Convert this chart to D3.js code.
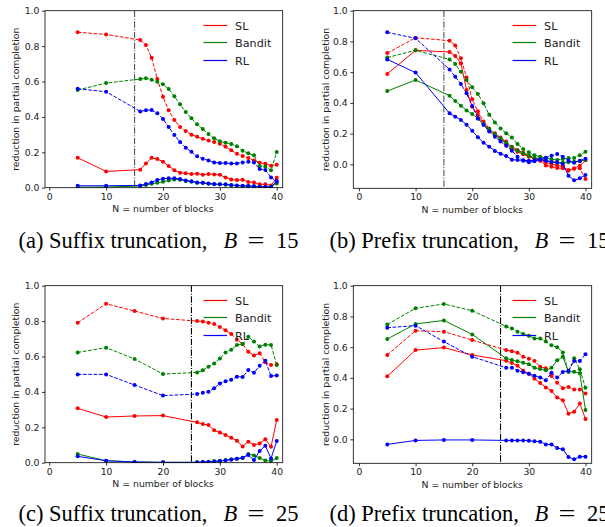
<!DOCTYPE html>
<html>
<head>
<meta charset="utf-8">
<script src="https://cdn.jsdelivr.net/npm/d3@7"></script>
<style>
  body { margin: 0; background: #fff; }
  svg { display: block; }
  .tick text { font-family: "DejaVu Sans", sans-serif; font-size: 9.3px; fill: #222; }
  .axis-label { font-family: "DejaVu Sans", sans-serif; font-size: 9.3px; fill: #222; }
  .legend-text { font-family: "DejaVu Sans", sans-serif; font-size: 11.2px; fill: #222; }
  .caption { font-family: "Liberation Serif", "Times New Roman", serif; font-size: 22.5px; fill: #000; }
</style>
</head>
<body>
<div id="chart"></div>
<script>
// x positions (number of blocks)
const xsB15 = [5, 10, 16, 17, 18, 19, 20, 21, 22, 23, 24, 25, 26, 27, 28, 29, 30, 31, 32, 33, 34, 35, 36, 37, 38, 39, 40];
const xsB25 = [5, 10, 15, 20, 26, 27, 28, 29, 30, 31, 32, 33, 34, 35, 36, 37, 38, 39, 40];
const seriesNames = ['SL', 'Bandit', 'RL'];
const xTicks = [0, 10, 20, 30, 40];

// (a) suffix truncation, B = 15
const aSLdash = [0.878, 0.866, 0.834, 0.806, 0.734, 0.614, 0.514, 0.437, 0.382, 0.343, 0.320, 0.299, 0.288, 0.277, 0.267, 0.258, 0.249, 0.232, 0.211, 0.192, 0.179, 0.168, 0.154, 0.141, 0.136, 0.124, 0.130];
const aSLsolid = [0.169, 0.092, 0.102, 0.137, 0.169, 0.162, 0.147, 0.122, 0.098, 0.085, 0.081, 0.077, 0.079, 0.073, 0.077, 0.075, 0.073, 0.058, 0.047, 0.043, 0.045, 0.032, 0.030, 0.019, 0.019, 0.013, 0.056];
const aBanditDash = [0.552, 0.591, 0.614, 0.618, 0.610, 0.599, 0.584, 0.557, 0.516, 0.471, 0.427, 0.392, 0.358, 0.331, 0.303, 0.279, 0.262, 0.254, 0.247, 0.234, 0.209, 0.194, 0.183, 0.122, 0.120, 0.098, 0.201];
const aBanditSolid = [0.003, 0.004, 0.009, 0.015, 0.022, 0.028, 0.034, 0.041, 0.047, 0.045, 0.038, 0.034, 0.028, 0.026, 0.022, 0.019, 0.019, 0.017, 0.013, 0.011, 0.009, 0.009, 0.008, 0.006, 0.006, 0.006, 0.024];
const aRLdash = [0.559, 0.542, 0.431, 0.437, 0.439, 0.420, 0.388, 0.343, 0.298, 0.258, 0.226, 0.203, 0.177, 0.164, 0.154, 0.143, 0.139, 0.139, 0.137, 0.137, 0.143, 0.147, 0.143, 0.105, 0.100, 0.058, 0.034];
const aRLsolid = [0.011, 0.011, 0.013, 0.021, 0.030, 0.043, 0.051, 0.053, 0.053, 0.049, 0.041, 0.036, 0.030, 0.028, 0.024, 0.021, 0.019, 0.019, 0.015, 0.013, 0.011, 0.009, 0.008, 0.006, 0.004, 0.004, 0.038];

// (b) prefix truncation, B = 15
const bSLdash = [0.724, 0.824, 0.805, 0.774, 0.690, 0.566, 0.423, 0.345, 0.278, 0.234, 0.202, 0.174, 0.148, 0.115, 0.093, 0.076, 0.059, 0.039, 0.024, -0.007, -0.015, -0.024, -0.026, -0.037, -0.028, -0.026, -0.095];
const bSLsolid = [0.588, 0.742, 0.731, 0.705, 0.657, 0.484, 0.375, 0.321, 0.267, 0.219, 0.191, 0.165, 0.130, 0.100, 0.082, 0.065, 0.050, 0.037, 0.026, 0.013, 0.002, -0.007, -0.013, -0.041, -0.026, -0.009, 0.026];
const bBanditDash = [0.695, 0.742, 0.683, 0.653, 0.603, 0.549, 0.501, 0.458, 0.397, 0.323, 0.273, 0.234, 0.202, 0.174, 0.132, 0.100, 0.078, 0.059, 0.050, 0.041, 0.033, 0.028, 0.035, 0.041, 0.041, 0.059, 0.082];
const bBanditSolid = [0.477, 0.549, 0.447, 0.412, 0.382, 0.351, 0.328, 0.299, 0.262, 0.230, 0.197, 0.169, 0.141, 0.113, 0.089, 0.072, 0.056, 0.043, 0.035, 0.026, 0.017, 0.011, 0.011, 0.013, 0.017, 0.020, 0.030];
const bRLdash = [0.859, 0.820, 0.618, 0.570, 0.523, 0.462, 0.380, 0.299, 0.256, 0.213, 0.180, 0.148, 0.121, 0.089, 0.050, 0.024, 0.013, 0.020, 0.033, 0.043, 0.056, 0.067, 0.050, 0.024, 0.011, 0.024, 0.037];
const bRLsolid = [0.683, 0.597, 0.332, 0.310, 0.289, 0.258, 0.219, 0.176, 0.141, 0.115, 0.087, 0.069, 0.054, 0.030, 0.028, 0.026, 0.024, 0.026, 0.030, 0.024, 0.015, 0.013, 0.002, -0.074, -0.104, -0.091, -0.069];

// (c) suffix truncation, B = 25
const cSLdash = [0.791, 0.898, 0.857, 0.815, 0.800, 0.798, 0.791, 0.783, 0.766, 0.748, 0.727, 0.695, 0.670, 0.627, 0.606, 0.618, 0.567, 0.552, 0.556];
const cSLsolid = [0.307, 0.258, 0.264, 0.266, 0.228, 0.218, 0.213, 0.183, 0.171, 0.156, 0.141, 0.124, 0.092, 0.119, 0.100, 0.109, 0.132, 0.090, 0.241];
const cBanditDash = [0.623, 0.650, 0.586, 0.501, 0.510, 0.522, 0.542, 0.561, 0.589, 0.623, 0.638, 0.665, 0.670, 0.712, 0.685, 0.657, 0.667, 0.665, 0.552];
const cBanditSolid = [0.049, 0.011, 0.004, 0.002, 0.002, 0.004, 0.006, 0.009, 0.011, 0.015, 0.019, 0.023, 0.026, 0.049, 0.041, 0.026, 0.013, 0.009, 0.026];
const cRLdash = [0.499, 0.499, 0.439, 0.379, 0.388, 0.395, 0.401, 0.420, 0.448, 0.460, 0.469, 0.486, 0.484, 0.524, 0.508, 0.548, 0.576, 0.490, 0.492];
const cRLsolid = [0.036, 0.011, 0.004, 0.002, 0.002, 0.004, 0.004, 0.006, 0.009, 0.013, 0.017, 0.023, 0.028, 0.043, 0.015, 0.066, 0.096, 0.024, 0.122];

// (d) prefix truncation, B = 25
const dSLdash = [0.549, 0.707, 0.701, 0.646, 0.581, 0.573, 0.564, 0.538, 0.525, 0.510, 0.473, 0.462, 0.412, 0.369, 0.332, 0.341, 0.325, 0.325, 0.299];
const dSLsolid = [0.410, 0.581, 0.597, 0.549, 0.512, 0.497, 0.479, 0.447, 0.427, 0.395, 0.367, 0.338, 0.315, 0.273, 0.254, 0.167, 0.180, 0.234, 0.132];
const dBanditDash = [0.748, 0.853, 0.881, 0.837, 0.735, 0.722, 0.701, 0.685, 0.675, 0.657, 0.657, 0.636, 0.612, 0.599, 0.566, 0.440, 0.527, 0.456, 0.336];
const dBanditSolid = [0.653, 0.751, 0.774, 0.683, 0.527, 0.516, 0.508, 0.499, 0.488, 0.466, 0.458, 0.449, 0.466, 0.514, 0.538, 0.440, 0.440, 0.430, 0.191];
const dRLdash = [0.727, 0.740, 0.636, 0.538, 0.466, 0.466, 0.447, 0.436, 0.427, 0.414, 0.403, 0.384, 0.434, 0.403, 0.438, 0.447, 0.510, 0.510, 0.553];
const dRLsolid = [-0.033, -0.007, -0.004, -0.004, -0.007, -0.007, -0.007, -0.007, -0.009, -0.013, -0.015, -0.033, -0.033, -0.056, -0.065, -0.115, -0.130, -0.113, -0.113];

const colors = { SL: '#ff0000', Bandit: '#008000', RL: '#0000ff' };

const panels = [
  { left: 45, right: 282.7, top: 10.7, bottom: 187.7, xDom: [-0.75, 41.05], yDom: [0, 1], cut: 15, cutColor: '#555',
    xs: xsB15, series: [['SL', aSLsolid, aSLdash], ['Bandit', aBanditSolid, aBanditDash], ['RL', aRLsolid, aRLdash]],
    ylabX: 16, caption: ['(a) Suffix truncation,', '15'], capX: 18.5, capY: 248 },
  { left: 353.3, right: 591.7, top: 10.7, bottom: 188.3, xDom: [-1.0, 41.1], yDom: [-0.156, 1], cut: 15, cutColor: '#555',
    xs: xsB15, series: [['SL', bSLsolid, bSLdash], ['Bandit', bBanditSolid, bBanditDash], ['RL', bRLsolid, bRLdash]],
    ylabX: 326, caption: ['(b) Prefix truncation,', '15'], capX: 329.5, capY: 248 },
  { left: 45, right: 282.7, top: 285.7, bottom: 462.7, xDom: [-0.75, 41.05], yDom: [0, 1], cut: 25, cutColor: '#000',
    xs: xsB25, series: [['SL', cSLsolid, cSLdash], ['Bandit', cBanditSolid, cBanditDash], ['RL', cRLsolid, cRLdash]],
    ylabX: 16, caption: ['(c) Suffix truncation,', '25'], capX: 18.5, capY: 521 },
  { left: 353.3, right: 591.7, top: 285.7, bottom: 463.3, xDom: [-1.0, 41.1], yDom: [-0.156, 1], cut: 25, cutColor: '#000',
    xs: xsB25, series: [['SL', dSLsolid, dSLdash], ['Bandit', dBanditSolid, dBanditDash], ['RL', dRLsolid, dRLdash]],
    ylabX: 326, caption: ['(d) Prefix truncation,', '25'], capX: 329.5, capY: 521 }
];

const svg = d3.select('#chart').append('svg')
  .attr('width', 605)
  .attr('height', 527);

panels.forEach(function(p, pi) {
  const x = d3.scaleLinear().domain(p.xDom).range([p.left, p.right]);
  const y = d3.scaleLinear().domain(p.yDom).range([p.bottom, p.top]);
  const g = svg.append('g');

  const clipId = 'clip-panel-' + pi;
  g.append('clipPath').attr('id', clipId)
    .append('rect')
    .attr('x', p.left).attr('y', p.top)
    .attr('width', p.right - p.left).attr('height', p.bottom - p.top);

  const plot = g.append('g').attr('clip-path', 'url(#' + clipId + ')');

  // vertical cut-off line at B
  plot.append('line')
    .attr('x1', x(p.cut)).attr('x2', x(p.cut))
    .attr('y1', p.top).attr('y2', p.bottom)
    .attr('stroke', p.cutColor)
    .attr('stroke-width', 1.1)
    .attr('stroke-dasharray', '6.4,1.6,1,1.6');

  const line = d3.line()
    .x((d, i) => x(p.xs[i]))
    .y(d => y(d));

  p.series.forEach(function(s) {
    const name = s[0];
    [[s[1], null], [s[2], '3.7,1.6']].forEach(function(pair) {
      const vals = pair[0];
      plot.append('path')
        .datum(vals)
        .attr('d', line)
        .attr('fill', 'none')
        .attr('stroke', colors[name])
        .attr('stroke-width', 1)
        .attr('stroke-dasharray', pair[1]);
      plot.selectAll(null)
        .data(vals)
        .enter()
        .append('circle')
        .attr('cx', (d, i) => x(p.xs[i]))
        .attr('cy', d => y(d))
        .attr('r', 2)
        .attr('fill', colors[name]);
    });
  });

  // axes
  const xAxis = d3.axisBottom(x).tickValues(xTicks).tickSize(3).tickPadding(2.5).tickFormat(d3.format('d'));
  g.append('g')
    .attr('transform', `translate(0,${p.bottom})`)
    .call(xAxis)
    .call(a => a.select('.domain').remove());

  const yTicks = [0, 0.2, 0.4, 0.6, 0.8, 1.0];
  const yAxis = d3.axisLeft(y).tickValues(yTicks).tickSize(3).tickPadding(2.5).tickFormat(d3.format('.1f'));
  g.append('g')
    .attr('transform', `translate(${p.left},0)`)
    .call(yAxis)
    .call(a => a.select('.domain').remove());

  g.selectAll('.tick line').attr('stroke', '#000').attr('stroke-width', 0.8);

  // frame
  g.append('rect')
    .attr('x', p.left).attr('y', p.top)
    .attr('width', p.right - p.left).attr('height', p.bottom - p.top)
    .attr('fill', 'none')
    .attr('stroke', '#000')
    .attr('stroke-width', 0.8);

  // axis labels
  g.append('text')
    .attr('class', 'axis-label')
    .attr('x', (x(0) + x(40)) / 2)
    .attr('y', p.bottom + 24.5)
    .attr('text-anchor', 'middle')
    .text('N = number of blocks');

  g.append('text')
    .attr('class', 'axis-label')
    .attr('transform', `translate(${p.ylabX},${(p.top + p.bottom) / 2}) rotate(-90)`)
    .attr('text-anchor', 'middle')
    .attr('dy', '0.35em')
    .text('reduction in partial completion');

  // legend
  seriesNames.forEach(function(name, i) {
    const ly = Math.round(p.top + 13.8 + i * 17.6) + 0.5;
    g.append('line')
      .attr('class', 'legend-line')
      .attr('x1', p.right - 79.2).attr('x2', p.right - 55.5)
      .attr('y1', ly).attr('y2', ly)
      .attr('stroke', colors[name])
      .attr('stroke-width', 1.2);
    g.append('text')
      .attr('class', 'legend-text')
      .attr('x', p.right - 47.6)
      .attr('y', ly)
      .attr('dy', '0.36em')
      .text(name);
  });

  // caption: text, then math "B = n"
  const cx = p.capX;
  svg.append('text').attr('class', 'caption')
    .attr('x', cx).attr('y', p.capY)
    .text(p.caption[0]);
  svg.append('text').attr('class', 'caption')
    .attr('x', cx + 205).attr('y', p.capY)
    .attr('font-style', 'italic')
    .text('B');
  svg.append('text').attr('class', 'caption')
    .attr('x', cx + 229).attr('y', p.capY)
    .attr('textLength', 17)
    .attr('lengthAdjust', 'spacingAndGlyphs')
    .text('=');
  svg.append('text').attr('class', 'caption')
    .attr('x', cx + 257.5).attr('y', p.capY)
    .text(p.caption[1]);
});
</script>
</body>
</html>
